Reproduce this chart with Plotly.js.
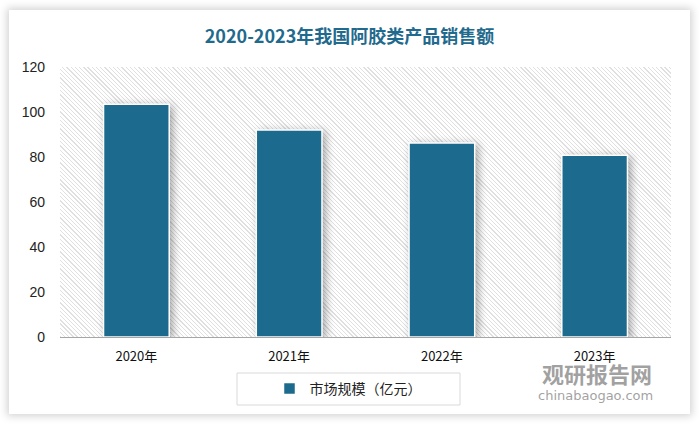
<!DOCTYPE html>
<html>
<head>
<meta charset="utf-8">
<script src="https://cdn.plot.ly/plotly-3.0.1.min.js"></script>
<style>
  html, body { margin:0; padding:0; background:#ffffff; }
  #wrap { position:relative; width:699px; height:425px; overflow:hidden; background:#fff; }
  #card { position:absolute; left:9px; top:10px; width:681px; height:404px; background:#fff;
          box-shadow: 0 0 8px 2px rgba(0,0,0,0.18); }
  #hatch { position:absolute; left:60px; top:67px; width:611px; height:270px;
           background: repeating-linear-gradient(45deg, #e0e0e0 0px, #e0e0e0 0.9px, #ffffff 0.9px, #ffffff 3px); }
  #chart { position:absolute; left:0; top:0; width:699px; height:425px; }
  .barlayer .point path { filter: drop-shadow(3px 2px 4px rgba(0,0,0,0.35)); }
</style>
</head>
<body>
<div id="wrap">
  <div id="card"></div>
  <div id="hatch"></div>
  <div id="chart"></div>
</div>
<script>
const categories = ["2020年", "2021年", "2022年", "2023年"];
const seriesName = "市场规模（亿元）";
const values = [103.5, 92, 86.2, 80.8];
const yTicks = [0, 20, 40, 60, 80, 100, 120];

const trace = {
  type: "bar",
  x: categories,
  y: values,
  name: seriesName,
  marker: { color: "#1c6b8e", line: { color: "#ffffff", width: 1.5 } },
  hoverinfo: "skip"
};

const layout = {
  width: 699, height: 425,
  margin: { l: 60, r: 28, t: 67, b: 88 },
  paper_bgcolor: "rgba(0,0,0,0)",
  plot_bgcolor: "rgba(0,0,0,0)",
  bargap: 0.57,
  showlegend: true,
  title: {
    text: "<b>2020-2023年我国阿胶类产品销售额</b>",
    font: { family: "Noto Sans CJK SC", size: 18, color: "#1f6a8d" },
    x: 0.5, xanchor: "center", xref: "container",
    y: 1 - 37/425, yanchor: "middle", yref: "container"
  },
  xaxis: {
    type: "category",
    showline: true, linecolor: "#a6a6a6", linewidth: 1,
    ticks: "", showgrid: false, zeroline: false,
    tickfont: { family: "Noto Sans CJK SC", size: 13, color: "#111" },
    ticklabelstandoff: 7
  },
  yaxis: {
    range: [0, 120],
    tickvals: yTicks,
    ticktext: yTicks.map(String),
    showgrid: false, zeroline: false, showline: false, ticks: "",
    ticklabelstandoff: 14,
    tickfont: { family: "Liberation Sans, Arial", size: 14, color: "#222" }
  },
  legend: {
    orientation: "h",
    x: (348 - 60) / 611, xanchor: "center",
    y: (337 - 389) / 270, yanchor: "middle",
    font: { family: "Noto Sans CJK SC", size: 14, color: "#222" },
    bgcolor: "rgba(0,0,0,0)",
    borderwidth: 0,
    itemwidth: 30
  },
  shapes: [{
    type: "rect", xref: "paper", yref: "paper",
    x0: (237 - 60) / 611, x1: (460 - 60) / 611,
    y0: (337 - 405) / 270, y1: (337 - 373) / 270,
    line: { color: "#d9d9d9", width: 1 }, fillcolor: "rgba(0,0,0,0)"
  }],
  annotations: [
    { text: "<b>观研报告网</b>", xref: "paper", yref: "paper",
      x: (597 - 60) / 611, y: (337 - 373) / 270, xanchor: "center", yanchor: "middle",
      showarrow: false, font: { family: "Noto Sans CJK SC", size: 22, color: "rgba(130,130,130,0.75)" } },
    { text: "chinabaogao.com", xref: "paper", yref: "paper",
      x: (595 - 60) / 611, y: (337 - 395) / 270, xanchor: "center", yanchor: "middle",
      showarrow: false, font: { family: "DejaVu Sans", size: 13, color: "rgba(130,130,130,0.75)" } }
  ]
};

Plotly.newPlot("chart", [trace], layout, { staticPlot: true, displayModeBar: false });
</script>
</body>
</html>
